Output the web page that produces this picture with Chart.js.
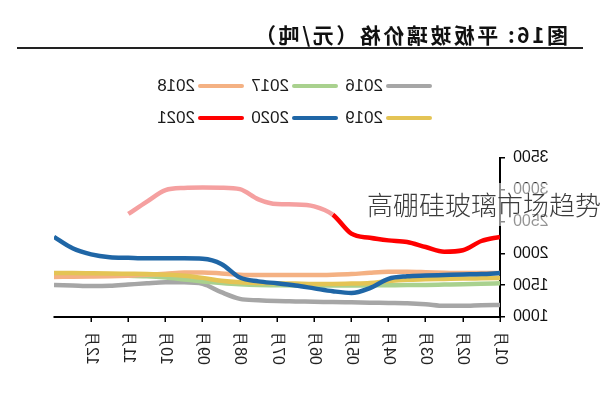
<!DOCTYPE html>
<html>
<head>
<meta charset="utf-8">
<script src="https://cdn.jsdelivr.net/npm/chart.js@4.4.0/dist/chart.umd.min.js"></script>
<style>
  html, body { margin: 0; padding: 0; background: #fff; }
  #wrap { position: relative; width: 600px; height: 394px; overflow: hidden; }
  /* the picture is a mirror image, so the whole chart is flipped */
  #flip { position: absolute; left: 0; top: 0; width: 600px; height: 394px; transform: scaleX(-1); }
  #title { position: absolute; left: 32px; top: 19px; font: bold 21px "Noto Sans CJK SC", sans-serif; color: #111; letter-spacing: 2.5px; white-space: nowrap; }
  #rule { position: absolute; left: 17px; top: 47px; width: 566px; height: 2px; background: #222; }
  #legend { position: absolute; left: 168px; top: 76px; display: grid; grid-template-columns: 94px 94px 94px; row-gap: 12px; }
  .item { display: flex; align-items: center; height: 20px; font: 17px "Liberation Sans", Arial, sans-serif; color: #1a1a1a; }
  .item i { display: inline-block; width: 46px; height: 4px; border-radius: 2px; margin-right: 3px; }
  #chart { position: absolute; left: 0; top: 0; }
  #fade { position: absolute; left: 40px; top: 183px; width: 63px; height: 43px; background: rgba(255,255,255,0.55); }
  #mark { position: absolute; left: 367px; top: 191px; font: 300 26px "Noto Sans CJK SC", sans-serif; line-height: 1; color: #3c3c3c; white-space: nowrap; }
</style>
</head>
<body>
<div id="wrap">
  <div id="flip">
    <div id="title">图16:  平板玻璃价格（元/吨）</div>
    <div id="rule"></div>
    <div id="legend"></div>
    <canvas id="chart" width="600" height="394"></canvas>
    <div id="fade"></div>
  </div>
  <div id="mark">高硼硅玻璃市场趋势</div>
</div>
<script>
// mois en demi-mois : 0 = début janvier, 12 = fin décembre
const positions = [0, 0.5, 1, 1.5, 2, 2.5, 3, 3.5, 4, 4.5, 5, 5.5, 6, 6.5, 7, 7.5, 8, 8.5, 9, 9.5, 10, 10.5, 11, 11.5, 12];
const monthLabels = ['01月', '02月', '03月', '04月', '05月', '06月', '07月', '08月', '09月', '10月', '11月', '12月'];

const y2016 = [1190, 1185, 1175, 1175, 1200, 1215, 1220, 1225, 1230, 1235, 1240, 1245, 1250, 1262, 1285, 1390, 1520, 1545, 1545, 1530, 1510, 1490, 1487, 1495, 1503];
const y2017 = [1530, 1522, 1515, 1510, 1505, 1502, 1500, 1498, 1495, 1495, 1495, 1497, 1500, 1503, 1515, 1535, 1560, 1590, 1620, 1640, 1650, 1655, 1660, 1660, 1660];
const y2018 = [1690, 1690, 1690, 1695, 1705, 1712, 1710, 1695, 1675, 1665, 1660, 1660, 1660, 1660, 1665, 1685, 1700, 1700, 1680, 1665, 1650, 1640, 1635, 1632, 1630];
const y2019 = [1612, 1608, 1604, 1598, 1592, 1585, 1565, 1535, 1525, 1520, 1520, 1525, 1530, 1535, 1545, 1570, 1615, 1650, 1665, 1675, 1680, 1685, 1688, 1690, 1690];
const y2020 = [1690, 1675, 1668, 1660, 1652, 1640, 1600, 1455, 1378, 1405, 1450, 1495, 1530, 1560, 1620, 1835, 1915, 1922, 1922, 1922, 1930, 1940, 1985, 2080, 2260];
const y2021 = [2260, 2195, 2050, 2027, 2100, 2180, 2205, 2245, 2310, 2610, 2740, 2770, 2775, 2850, 3010, 3033, 3035, 3030, 2995, 2815, 2620, null, null, null, null];

const series = [
  { label: '2016', values: y2016, color: '#a6a6a6', order: 6 },
  { label: '2017', values: y2017, color: '#a9d18e', order: 5 },
  { label: '2018', values: y2018, color: '#f4b183', order: 4 },
  { label: '2019', values: y2019, color: '#e4c455', order: 3 },
  { label: '2020', values: y2020, color: '#1f66a6', order: 2 },
  { label: '2021', values: y2021, color: '#ff0000', order: 1 }
];

const datasets = series.map(s => {
  const ds = {
    label: s.label,
    data: s.values.map((v, i) => ({ x: positions[i], y: v })),
    borderColor: s.color,
    backgroundColor: s.color,
    borderWidth: 4.5,
    pointRadius: 0,
    cubicInterpolationMode: 'monotone',
    fill: false,
    order: s.order
  };
  if (s.label === '2021') {
    // la seconde moitié de la courbe est plus pâle sur l'original
    ds.segment = { borderColor: ctx => ctx.p0DataIndex >= 9 ? '#f5a0a0' : '#ff0000' };
  }
  return ds;
});

const chart = new Chart(document.getElementById('chart'), {
  type: 'line',
  data: { datasets: datasets },
  options: {
    responsive: false,
    animation: false,
    layout: { padding: { top: 158, right: 54, bottom: 0, left: 0 } },
    plugins: { legend: { display: false }, tooltip: { enabled: false } },
    scales: {
      x: {
        type: 'linear',
        min: 0,
        max: 12,
        afterBuildTicks: s => { s.ticks = s.ticks.filter(t => t.value < 12); },
        afterFit: s => { s.height = 77; },
        ticks: {
          stepSize: 1,
          autoSkip: false,
          minRotation: 90,
          maxRotation: 90,
          padding: 9,
          color: '#222',
          font: { family: 'Liberation Sans, Arial', size: 16 },
          callback: v => monthLabels[v]
        },
        grid: { drawOnChartArea: false, tickLength: 5, color: '#000', lineWidth: 1.5 },
        border: { color: '#000', width: 2 }
      },
      y: {
        min: 1000,
        max: 3500,
        afterFit: s => { s.width = 100; },
        ticks: {
          stepSize: 500,
          padding: 8,
          color: '#111',
          font: { family: 'Liberation Sans, Arial', size: 16 },
          callback: v => String(v)
        },
        grid: { drawOnChartArea: false, tickLength: 5, color: '#000', lineWidth: 1.5 },
        border: { color: '#000', width: 2 }
      }
    }
  }
});

// légende en HTML : 3 par ligne comme sur l'image
const legend = document.getElementById('legend');
chart.data.datasets.forEach(ds => {
  const item = document.createElement('div');
  item.className = 'item';
  item.innerHTML = '<i style="background:' + ds.backgroundColor + '"></i>' + ds.label;
  legend.appendChild(item);
});
</script>
</body>
</html>
